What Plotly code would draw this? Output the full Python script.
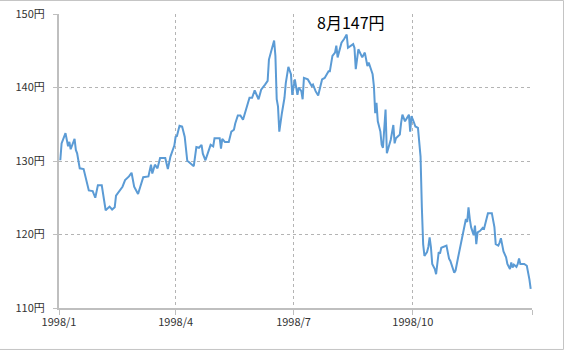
import plotly.graph_objects as go

dates = [
    "1998-01-02","1998-01-03","1998-01-06","1998-01-08","1998-01-09","1998-01-10","1998-01-13","1998-01-14",
    "1998-01-15","1998-01-17","1998-01-20","1998-01-22","1998-01-24","1998-01-27","1998-01-29","1998-01-31",
    "1998-02-03","1998-02-06","1998-02-09","1998-02-11","1998-02-13","1998-02-14","1998-02-17","1998-02-19",
    "1998-02-21","1998-02-24","1998-02-26","1998-02-28","1998-03-03","1998-03-05","1998-03-07","1998-03-11",
    "1998-03-13","1998-03-14","1998-03-16","1998-03-18","1998-03-20","1998-03-24","1998-03-26","1998-03-28",
    "1998-03-31","1998-04-01","1998-04-02","1998-04-04","1998-04-06","1998-04-08","1998-04-10","1998-04-11",
    "1998-04-14","1998-04-15","1998-04-17","1998-04-19","1998-04-21","1998-04-22","1998-04-24","1998-04-26",
    "1998-04-28","1998-04-30","1998-05-01","1998-05-05","1998-05-06","1998-05-07","1998-05-09","1998-05-12",
    "1998-05-14","1998-05-16","1998-05-17","1998-05-19","1998-05-21","1998-05-23","1998-05-25","1998-05-27",
    "1998-05-28","1998-05-30","1998-06-01","1998-06-04","1998-06-06","1998-06-09","1998-06-11","1998-06-12",
    "1998-06-14","1998-06-16","1998-06-17","1998-06-18","1998-06-19","1998-06-20","1998-06-22","1998-06-24",
    "1998-06-25","1998-06-27","1998-06-29","1998-06-30","1998-07-02","1998-07-03","1998-07-04","1998-07-05",
    "1998-07-07","1998-07-08","1998-07-09","1998-07-12","1998-07-15","1998-07-16","1998-07-18","1998-07-20",
    "1998-07-23","1998-07-25","1998-07-28","1998-07-29","1998-07-31","1998-08-02","1998-08-03","1998-08-04",
    "1998-08-07","1998-08-09","1998-08-11","1998-08-12","1998-08-16","1998-08-17","1998-08-18","1998-08-20",
    "1998-08-23","1998-08-25","1998-08-27","1998-08-28","1998-08-31","1998-09-01","1998-09-02","1998-09-03",
    "1998-09-04","1998-09-06","1998-09-07","1998-09-08","1998-09-10","1998-09-11","1998-09-13","1998-09-14",
    "1998-09-16","1998-09-17","1998-09-18","1998-09-21","1998-09-22","1998-09-23","1998-09-25","1998-09-28",
    "1998-09-29","1998-09-30","1998-10-02","1998-10-03","1998-10-05","1998-10-06","1998-10-07","1998-10-08",
    "1998-10-09","1998-10-10","1998-10-12","1998-10-13","1998-10-14","1998-10-15","1998-10-16","1998-10-18",
    "1998-10-19","1998-10-21","1998-10-22","1998-10-23","1998-10-26","1998-10-27","1998-10-29","1998-10-30",
    "1998-11-02","1998-11-03","1998-11-05","1998-11-07","1998-11-09","1998-11-11","1998-11-12","1998-11-13",
    "1998-11-14","1998-11-15","1998-11-17","1998-11-18","1998-11-19","1998-11-20","1998-11-22","1998-11-24",
    "1998-11-25","1998-11-27","1998-11-28","1998-12-01","1998-12-03","1998-12-04","1998-12-06","1998-12-07",
    "1998-12-08","1998-12-10","1998-12-12","1998-12-13","1998-12-15","1998-12-16","1998-12-17","1998-12-18",
    "1998-12-20","1998-12-21","1998-12-22","1998-12-23","1998-12-26","1998-12-28","1998-12-29","1998-12-30",
    "1998-12-31",
]

yen = [
    130.1,132.4,133.8,132.0,132.6,131.6,133.0,131.5,
    131.05,129.0,128.9,127.6,126.0,125.9,125.0,126.7,
    126.7,123.3,123.8,123.4,123.7,125.3,126.0,126.5,
    127.4,127.9,128.4,126.5,125.5,126.7,127.8,127.9,
    129.5,128.3,129.5,129.0,130.4,130.4,128.9,130.6,
    132.1,133.3,133.4,134.8,134.7,133.3,130.0,129.9,
    129.45,129.3,131.9,131.8,132.2,131.0,130.1,131.3,
    132.2,132.0,133.1,133.1,131.7,133.0,132.6,132.6,
    134.0,134.25,135.1,136.2,136.2,135.6,136.75,137.9,
    138.6,138.6,139.6,138.4,139.7,140.4,140.9,143.8,
    145.0,146.4,144.3,138.4,137.4,134.0,136.5,138.6,
    140.6,142.8,141.8,139.0,141.1,139.7,139.0,140.0,
    139.5,138.4,141.3,141.1,140.2,140.4,139.5,138.9,
    141.1,141.3,142.2,142.2,144.3,144.75,145.7,144.1,
    146.1,146.6,147.2,145.4,145.9,145.4,142.5,145.2,
    144.1,144.75,142.9,143.4,141.8,140.2,136.5,137.9,
    135.4,134.0,132.2,131.8,137.0,131.05,132.2,132.9,
    134.9,132.4,133.1,133.6,135.2,136.3,135.4,136.3,
    134.0,136.1,135.2,134.7,134.5,132.9,130.6,123.7,
    118.7,117.1,117.6,118.3,119.6,118.3,116.0,115.3,
    114.6,117.6,117.4,118.2,118.5,118.5,116.7,116.4,
    114.8,115.1,116.9,118.7,120.5,122.1,121.7,123.7,
    122.1,121.0,119.9,121.2,118.7,120.3,120.5,120.9,
    120.8,122.4,122.9,122.9,121.0,118.7,118.5,118.9,
    119.5,117.7,116.9,116.0,115.3,116.2,115.5,115.9,
    115.6,116.0,116.75,116.0,116.0,115.75,115.0,113.9,
    112.6,
]

x_tickvals = ["1998-01-01", "1998-04-01", "1998-07-01", "1998-10-01", "1999-01-01"]
x_ticktext = ["1998/1", "1998/4", "1998/7", "1998/10", ""]
y_tickvals = [110, 120, 130, 140, 150]
y_ticktext = ["110円", "120円", "130円", "140円", "150円"]

peak_label = "8月147円"
peak_date = "1998-08-14"
peak_y = 148.9

font_family = "Noto Sans CJK JP, Noto Sans, sans-serif"

fig = go.Figure()
fig.add_trace(go.Scatter(
    x=dates, y=yen, mode="lines",
    line=dict(color="#5B9BD5", width=2),
    hoverinfo="x+y", showlegend=False,
))

fig.add_annotation(
    x=peak_date, y=peak_y, xref="x", yref="y",
    text=peak_label, showarrow=False,
    font=dict(family=font_family, size=16, color="#000000"),
    xanchor="center", yanchor="middle",
)

fig.add_shape(
    type="rect", xref="paper", yref="paper",
    x0=-0.2, x1=1.0666, y0=-0.141, y1=1.046,
    line=dict(color="#c4c4c4", width=1), fillcolor="rgba(0,0,0,0)", layer="above",
)

fig.update_layout(
    width=567, height=353,
    margin=dict(l=59, r=35, t=14, b=45, autoexpand=False),
    paper_bgcolor="#ffffff", plot_bgcolor="#ffffff",
    font=dict(family=font_family, size=11, color="#333333"),
    xaxis=dict(
        type="date",
        range=["1998-01-01", "1999-01-01"],
        tickmode="array", tickvals=x_tickvals, ticktext=x_ticktext,
        showgrid=True, gridcolor="#b4b4b4", griddash="dot", gridwidth=1,
        showline=True, linecolor="#bfbfbf", linewidth=2,
        ticks="outside", ticklen=5, tickcolor="#bfbfbf", tickwidth=1,
        tickfont=dict(size=11, color="#333333"),
        ticklabelstandoff=-2,
        zeroline=False, automargin=False,
    ),
    yaxis=dict(
        range=[110, 150],
        tickmode="array", tickvals=y_tickvals, ticktext=y_ticktext,
        showgrid=True, gridcolor="#b4b4b4", griddash="dot", gridwidth=1,
        showline=True, linecolor="#bfbfbf", linewidth=2,
        ticks="outside", ticklen=4, tickcolor="#bfbfbf", tickwidth=1,
        tickfont=dict(size=11, color="#333333"),
        ticklabelstandoff=6,
        zeroline=False, automargin=False,
    ),
)

fig.write_html("out.html")
